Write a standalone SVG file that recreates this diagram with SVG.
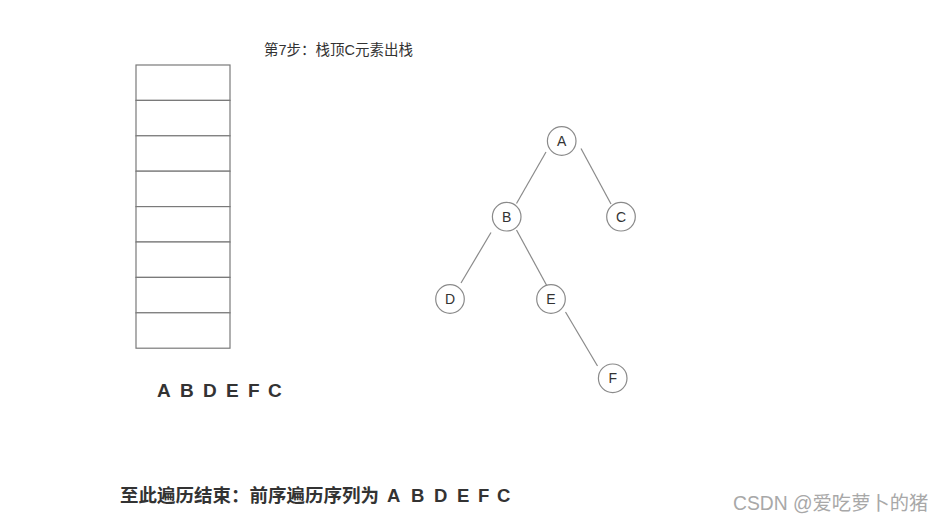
<svg xmlns="http://www.w3.org/2000/svg" width="943" height="523" viewBox="0 0 943 523">
<style>
.cell{fill:#fff;stroke:#7a7a7a;stroke-width:1.2}
.edge{stroke:#8a8a8a;stroke-width:1.2;fill:none}
.node circle{fill:#fff;stroke:#8a8a8a;stroke-width:1.2}
.node text{font-family:"Liberation Sans",Arial,sans-serif;font-size:14px;fill:#333;text-anchor:middle}
.title{font-family:"Liberation Sans","Noto Sans CJK SC",sans-serif;font-size:14.5px;fill:#333}
.seq{font-family:"Liberation Sans",Arial,sans-serif;font-size:19px;font-weight:bold;fill:#333}
.bottom{font-family:"Liberation Sans","Noto Sans CJK SC",sans-serif;font-size:18.5px;font-weight:bold;fill:#333}
.wm{font-family:"Liberation Sans","Noto Sans CJK SC",sans-serif;font-size:19.3px;fill:#a8a8a8}
</style>
<rect width="943" height="523" fill="#fff"/>
<text class="title" x="264" y="55">第7步：栈顶C元素出栈</text>
<g id="stack">
<rect class="cell" x="136" y="65" width="94" height="35.4"/>
<rect class="cell" x="136" y="100.4" width="94" height="35.4"/>
<rect class="cell" x="136" y="135.8" width="94" height="35.4"/>
<rect class="cell" x="136" y="171.2" width="94" height="35.4"/>
<rect class="cell" x="136" y="206.6" width="94" height="35.4"/>
<rect class="cell" x="136" y="242" width="94" height="35.4"/>
<rect class="cell" x="136" y="277.4" width="94" height="35.4"/>
<rect class="cell" x="136" y="312.8" width="94" height="35.4"/>
</g>
<text class="seq" x="157 180 203 226 248 268" y="397">ABDEFC</text>
<g id="connectors">
<line class="edge" x1="546" y1="152" x2="516.5" y2="203.5"/>
<line class="edge" x1="581" y1="148.5" x2="611" y2="204"/>
<line class="edge" x1="491" y1="232.5" x2="461" y2="283"/>
<line class="edge" x1="516.5" y1="230" x2="547" y2="286"/>
<line class="edge" x1="565.5" y1="312" x2="597.5" y2="366"/>
</g>
<g id="A" class="node"><circle cx="561.7" cy="141" r="14.3"/><text x="561.7" y="146">A</text></g>
<g id="B" class="node"><circle cx="506.7" cy="216.7" r="14.3"/><text x="506.7" y="221.7">B</text></g>
<g id="C" class="node"><circle cx="621" cy="216.7" r="14.3"/><text x="621" y="221.7">C</text></g>
<g id="D" class="node"><circle cx="450" cy="299" r="14.3"/><text x="450" y="304">D</text></g>
<g id="E" class="node"><circle cx="551" cy="299" r="14.3"/><text x="551" y="304">E</text></g>
<g id="F" class="node"><circle cx="612.7" cy="378.3" r="14.3"/><text x="612.7" y="383.3">F</text></g>
<text class="bottom" x="120" y="502">至此遍历结束：前序遍历序列为</text>
<text class="bottom" x="387 411 434 457 478 497" y="502">ABDEFC</text>
<text class="wm" x="733" y="510">CSDN @爱吃萝卜的猪</text>
</svg>
